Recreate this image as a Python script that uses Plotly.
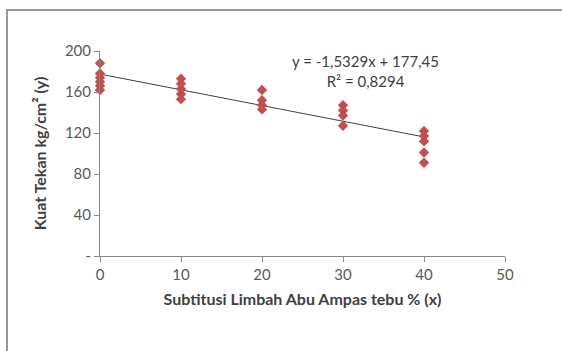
import plotly.graph_objects as go

# Data
x_vals = [0, 0, 0, 0, 0, 0,
          10, 10, 10, 10, 10,
          20, 20, 20, 20,
          30, 30, 30, 30,
          40, 40, 40, 40, 40]
y_vals = [188, 178, 174, 170, 166, 162,
          173, 168, 163, 158, 153,
          162, 152, 147, 143,
          147, 142, 137, 127,
          122, 117, 112, 101, 91]

slope = -1.5329
intercept = 177.45
trend_x = [0, 40]
trend_y = [intercept + slope * v for v in trend_x]

y_tickvals = [0, 40, 80, 120, 160, 200]
y_ticktext = ["-", "40", "80", "120", "160", "200"]
x_tickvals = [0, 10, 20, 30, 40, 50]

font_family = "Lato, 'Open Sans', sans-serif"

L, R, T, B = 100, 57, 51, 95
W, H = 562, 351
plot_w = W - L - R
plot_h = H - T - B

fig = go.Figure()
fig.add_trace(go.Scatter(
    x=trend_x, y=trend_y, mode="lines",
    line=dict(color="#404040", width=1), showlegend=False, hoverinfo="skip"))
fig.add_trace(go.Scatter(
    x=x_vals, y=y_vals, mode="markers",
    marker=dict(symbol="diamond", size=8, color="#C0504D"),
    cliponaxis=False, showlegend=False))

fig.update_layout(
    width=W, height=H,
    margin=dict(l=L, r=R, t=T, b=B, autoexpand=False),
    paper_bgcolor="white", plot_bgcolor="white",
    font=dict(family=font_family, color="#595959", size=15),
    xaxis=dict(range=[0, 50], tickvals=x_tickvals, showgrid=False, zeroline=False,
               showline=True, linecolor="#868686", linewidth=1,
               ticks="outside", ticklen=5, tickcolor="#868686",
               tickfont=dict(size=15, color="#595959"),
               title=dict(text="<b>Subtitusi Limbah Abu Ampas tebu % (x)</b>",
                          font=dict(size=16, color="#404040"), standoff=11)),
    yaxis=dict(range=[0, 200], tickvals=y_tickvals, ticktext=y_ticktext,
               showgrid=False, zeroline=False,
               showline=True, linecolor="#868686", linewidth=1,
               ticks="outside", ticklen=5, tickcolor="#868686",
               tickfont=dict(size=15, color="#595959"),
               title=dict(text="<b>Kuat Tekan kg/cm² (y)</b>",
                          font=dict(size=16, color="#404040"), standoff=14)),
    annotations=[
        dict(xref="paper", yref="paper",
             x=(365 - L) / plot_w, y=(256 - 71) / plot_h,
             xanchor="center", yanchor="middle",
             showarrow=False,
             text="y = -1,5329x + 177,45<br>R² = 0,8294",
             font=dict(size=15, color="#404040"), align="center"),
    ],
    shapes=[
        dict(type="rect", xref="paper", yref="paper",
             x0=(7 - L) / plot_w, x1=(W + 20 - L) / plot_w,
             y0=(256 - H - 20) / plot_h, y1=(256 - 10) / plot_h,
             line=dict(color="#9a9a9a", width=2), layer="below"),
    ],
)

fig.write_html("out.html", config={"displayModeBar": False},
               post_script="document.body.style.margin='0';document.body.style.overflow='hidden';")
